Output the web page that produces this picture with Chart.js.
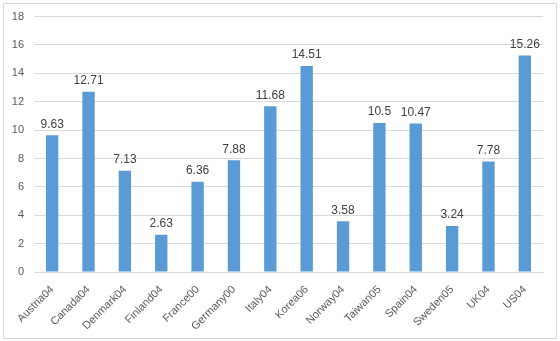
<!DOCTYPE html>
<html>
<head>
<meta charset="utf-8">
<script src="https://cdn.jsdelivr.net/npm/chart.js@4"></script>
<style>
  html, body { margin: 0; padding: 0; background: #fff; }
  #wrap { position: absolute; left: 0; top: 0; width: 560px; height: 341px; }
  #frame { position: absolute; left: 3px; top: 3px; width: 552px; height: 334px; border: 1px solid #d9d9d9; pointer-events: none; }
</style>
</head>
<body>
<div id="wrap">
  <canvas id="myChart" width="560" height="341"></canvas>
  <div id="frame"></div>
</div>
<script>
// dados do gráfico
const categorias = ['Austria04', 'Canada04', 'Denmark04', 'Finland04', 'France00', 'Germany00', 'Italy04',
    'Korea06', 'Norway04', 'Taiwan05', 'Spain04', 'Sweden05', 'UK04', 'US04'];
const valores = [9.63, 12.71, 7.13, 2.63, 6.36, 7.88, 11.68, 14.51, 3.58, 10.5, 10.47, 3.24, 7.78, 15.26];
const ticksY = [0, 2, 4, 6, 8, 10, 12, 14, 16, 18];

const fonte = '"Liberation Sans", "DejaVu Sans", sans-serif';

// rótulos acima das barras (sem plugin externo)
const rotulos = {
    id: 'rotulos',
    afterDatasetsDraw(chart) {
        const ctx = chart.ctx;
        ctx.save();
        ctx.font = '12px ' + fonte;
        ctx.fillStyle = '#404040';
        ctx.textAlign = 'center';
        ctx.textBaseline = 'bottom';
        chart.getDatasetMeta(0).data.forEach((bar, i) => {
            ctx.fillText(String(valores[i]), bar.x, bar.y - 5);
        });
        ctx.restore();
    }
};

const ctx = document.getElementById('myChart').getContext('2d');
const myChart = new Chart(ctx, {
    type: 'bar',
    data: {
        labels: categorias,
        datasets: [{
            data: valores,
            backgroundColor: '#5b9bd5',
            borderWidth: 0,
            categoryPercentage: 1,
            barPercentage: 0.34
        }]
    },
    options: {
        responsive: false,
        animation: false,
        layout: {
            padding: { top: 12, right: 17, bottom: 4, left: 4 }
        },
        plugins: {
            legend: { display: false },
            tooltip: { enabled: false }
        },
        scales: {
            x: {
                grid: { display: false },
                border: { color: '#d9d9d9' },
                ticks: {
                    color: '#595959',
                    font: { size: 11, family: fonte },
                    maxRotation: 45,
                    minRotation: 45,
                    autoSkip: false,
                    padding: 3
                },
                afterFit: (scale) => { scale.height = 65; }
            },
            y: {
                min: 0,
                max: 18,
                afterBuildTicks: (scale) => { scale.ticks = ticksY.map(v => ({ value: v })); },
                grid: { color: '#d9d9d9', drawTicks: false },
                border: { display: false },
                ticks: {
                    color: '#595959',
                    font: { size: 11, family: fonte },
                    padding: 10
                },
                afterFit: (scale) => { scale.width = 30; }
            }
        }
    },
    plugins: [rotulos]
});
</script>
</body>
</html>
